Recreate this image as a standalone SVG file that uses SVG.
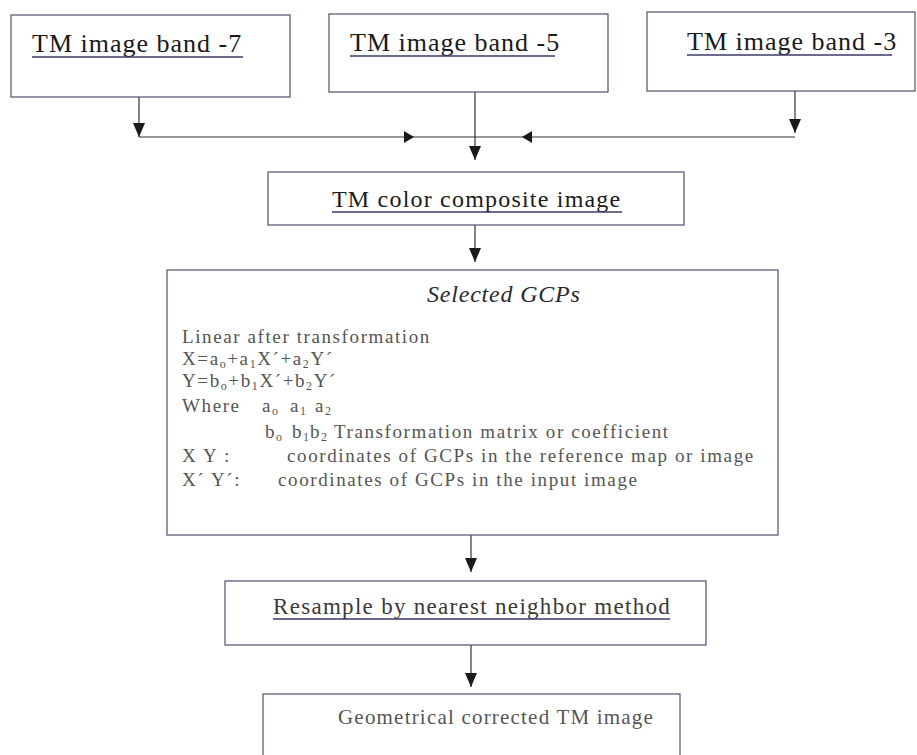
<svg xmlns="http://www.w3.org/2000/svg" width="917" height="755" viewBox="0 0 917 755">
<defs>
<marker id="ah" viewBox="0 0 10 12" refX="10" refY="6" markerWidth="10" markerHeight="12" markerUnits="userSpaceOnUse" orient="auto">
<path d="M0,0 L10,6 L0,12 z" fill="#1a1a1a"/>
</marker>
<marker id="ad" viewBox="0 0 12 14" refX="6" refY="14" markerWidth="12" markerHeight="14" markerUnits="userSpaceOnUse" orient="0">
<path d="M0,0 L12,0 L6,14 z" fill="#1a1a1a"/>
</marker>
</defs>
<style>
.box{fill:#ffffff;stroke:#5c5c78;stroke-width:1.3}
.ul{stroke:#3a3a6a;stroke-width:1.3}
.t1{font-family:"Liberation Serif",serif;font-size:26px;letter-spacing:1px;fill:#1a1a1a}
.t2{font-family:"Liberation Serif",serif;font-size:24px;letter-spacing:1.2px;fill:#1a1a1a}
.ti{font-family:"Liberation Serif",serif;font-size:24px;font-style:italic;letter-spacing:0.8px;fill:#2a2a2a}
.tb{font-family:"Liberation Serif",serif;font-size:19px;letter-spacing:1.6px;fill:#555555}
.tr{font-family:"Liberation Serif",serif;font-size:23px;letter-spacing:1.3px;fill:#3a3a3a}
.tg{font-family:"Liberation Serif",serif;font-size:21px;letter-spacing:1.2px;fill:#555555}
.sub{font-size:12px}
.con{stroke:#333333;stroke-width:1.2;fill:none}
</style>
<rect width="917" height="755" fill="#ffffff"/>
<g id="connectors">
<line class="con" x1="139" y1="97" x2="139" y2="137" marker-end="url(#ad)"/>
<line class="con" x1="139" y1="137" x2="414" y2="137" marker-end="url(#ah)"/>
<line class="con" x1="414" y1="137" x2="522" y2="137"/>
<line class="con" x1="795" y1="137" x2="522" y2="137" marker-end="url(#ah)"/>
<line class="con" x1="795" y1="91" x2="795" y2="133" marker-end="url(#ad)"/>
<line class="con" x1="475" y1="92" x2="475" y2="160" marker-end="url(#ad)"/>
<line class="con" x1="475" y1="225" x2="475" y2="262" marker-end="url(#ad)"/>
<line class="con" x1="471" y1="535" x2="471" y2="572" marker-end="url(#ad)"/>
<line class="con" x1="471" y1="645" x2="471" y2="687" marker-end="url(#ad)"/>
</g>
<g id="band7">
<rect class="box" x="11" y="15" width="279" height="82"/>
<text class="t1" x="32" y="52">TM image band -7</text>
<line class="ul" x1="32" y1="57" x2="243" y2="57"/>
</g>
<g id="band5">
<rect class="box" x="329" y="14" width="279" height="78"/>
<text class="t1" x="350" y="51">TM image band -5</text>
<line class="ul" x1="350" y1="56" x2="555" y2="56"/>
</g>
<g id="band3">
<rect class="box" x="647" y="12" width="268" height="79"/>
<text class="t1" x="687" y="50">TM image band -3</text>
<line class="ul" x1="687" y1="55" x2="892" y2="55"/>
</g>
<g id="composite">
<rect class="box" x="268" y="172" width="416" height="53"/>
<text class="t2" x="332" y="207">TM color composite image</text>
<line class="ul" x1="332" y1="212" x2="622" y2="212"/>
</g>
<g id="gcps">
<rect class="box" x="167" y="270" width="611" height="265"/>
<text class="ti" x="427" y="302">Selected GCPs</text>
<text class="tb" x="182" y="343">Linear after transformation</text>
<text class="tb" x="182" y="365">X=a<tspan class="sub" dy="3">o</tspan><tspan dy="-3">+a</tspan><tspan class="sub" dy="3">1</tspan><tspan dy="-3">X´+a</tspan><tspan class="sub" dy="3">2</tspan><tspan dy="-3">Y´</tspan></text>
<text class="tb" x="182" y="387">Y=b<tspan class="sub" dy="3">o</tspan><tspan dy="-3">+b</tspan><tspan class="sub" dy="3">1</tspan><tspan dy="-3">X´+b</tspan><tspan class="sub" dy="3">2</tspan><tspan dy="-3">Y´</tspan></text>
<text class="tb" x="182" y="412">Where</text>
<text class="tb" x="262" y="412">a<tspan class="sub" dy="3">o</tspan></text>
<text class="tb" x="290" y="412">a<tspan class="sub" dy="3">1</tspan></text>
<text class="tb" x="315" y="412">a<tspan class="sub" dy="3">2</tspan></text>
<text class="tb" x="265" y="438">b<tspan class="sub" dy="3">o</tspan></text>
<text class="tb" x="292" y="438">b<tspan class="sub" dy="3">1</tspan></text>
<text class="tb" x="310" y="438">b<tspan class="sub" dy="3">2</tspan></text>
<text class="tb" x="334" y="438">Transformation matrix or coefficient</text>
<text class="tb" x="182" y="462">X Y :</text>
<text class="tb" x="287" y="462">coordinates of GCPs in the reference map or image</text>
<text class="tb" x="182" y="486">X´  Y´:</text>
<text class="tb" x="278" y="486">coordinates of GCPs in the input image</text>
</g>
<g id="resample">
<rect class="box" x="225" y="581" width="481" height="64"/>
<text class="tr" x="273" y="614">Resample by nearest neighbor method</text>
<line class="ul" x1="273" y1="619" x2="670" y2="619"/>
</g>
<g id="corrected">
<rect class="box" x="263" y="694" width="417" height="70"/>
<text class="tg" x="338" y="724">Geometrical corrected TM image</text>
</g>
</svg>
